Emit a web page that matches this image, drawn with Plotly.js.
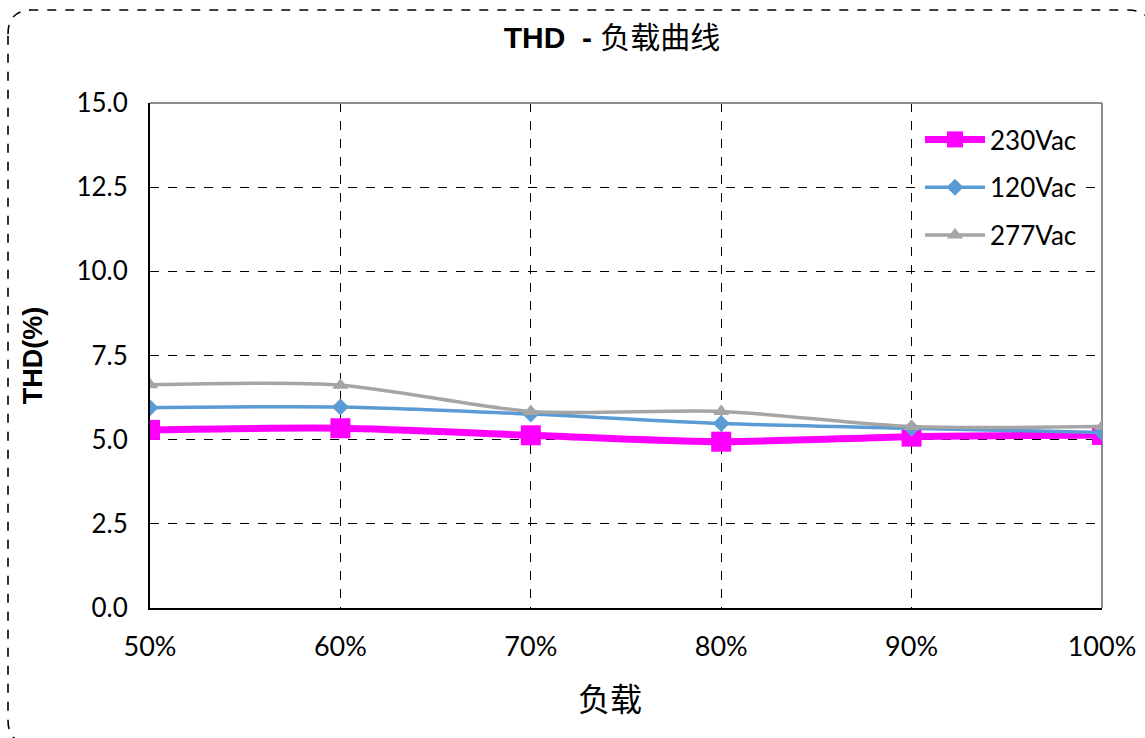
<!DOCTYPE html>
<html>
<head>
<meta charset="utf-8">
<script src="https://cdn.plot.ly/plotly-3.0.1.min.js"></script>
<style>html,body{margin:0;padding:0;background:#fff;}#chart{width:1145px;height:738px;}</style>
</head>
<body>
<div id="chart"></div>
<script>
// ---- data ----
const loadLabels = ['50%', '60%', '70%', '80%', '90%', '100%'];
const thd230 = [5.29, 5.34, 5.13, 4.94, 5.09, 5.14];
const thd120 = [5.95, 5.97, 5.76, 5.48, 5.34, 5.21];
const thd277 = [6.63, 6.62, 5.84, 5.84, 5.39, 5.39];
const yTicks = [0, 2.5, 5, 7.5, 10, 12.5, 15];
const yTickText = ['0.0', '2.5', '5.0', '7.5', '10.0', '12.5', '15.0'];

// ---- geometry helpers (layout only) ----
const W = 1145, H = 738, L = 150, R = 43, T = 103, B = 130;
const pw = W - L - R, ph = H - T - B;
const px = v => (v - L) / pw;
const py = v => (H - B - v) / ph;
function roundRect(x0, y0, x1, y1, r) {
  const p = (x, y) => px(x) + ',' + py(y);
  return 'M' + p(x0, y0 + r) + ' Q' + p(x0, y0) + ' ' + p(x0 + r, y0) +
    ' L' + p(x1 - r, y0) + ' Q' + p(x1, y0) + ' ' + p(x1, y0 + r) +
    ' L' + p(x1, y1 - r) + ' Q' + p(x1, y1) + ' ' + p(x1 - r, y1) +
    ' L' + p(x0 + r, y1) + ' Q' + p(x0, y1) + ' ' + p(x0, y1 - r) + ' Z';
}

const fontFam = 'Lato, "Open Sans", "Noto Sans CJK SC", sans-serif';

const traces = [
  {
    x: loadLabels, y: thd230, name: '230Vac', type: 'scatter', mode: 'lines+markers',
    line: {color: '#FF00FF', width: 7, shape: 'spline', smoothing: 0.8},
    marker: {symbol: 'square', size: 20, color: '#FF00FF'},
    legendgroup: 'a'
  },
  {
    x: loadLabels, y: thd120, name: '120Vac', type: 'scatter', mode: 'lines+markers',
    line: {color: '#5B9BD5', width: 3.5, shape: 'spline', smoothing: 0.8},
    marker: {symbol: 'diamond', size: 13, color: '#5B9BD5'},
    legendgroup: 'b'
  },
  {
    x: loadLabels, y: thd277, name: '277Vac', type: 'scatter', mode: 'lines+markers',
    line: {color: '#A5A5A5', width: 3.5, shape: 'spline', smoothing: 0.8},
    marker: {symbol: 'triangle-up', size: 14, color: '#A5A5A5'},
    legendgroup: 'c'
  }
];

const layout = {
  width: W, height: H,
  margin: {l: L, r: R, t: T, b: B, pad: 0},
  paper_bgcolor: '#fff', plot_bgcolor: '#fff',
  font: {family: fontFam, size: 24, color: '#000'},
  title: {
    text: '<b>THD  -</b> 负载曲线',
    font: {family: '"Liberation Sans", "Noto Sans CJK SC", sans-serif', size: 30, color: '#000'},
    x: 612 / W, xref: 'container', xanchor: 'center',
    y: 1 - 37 / H, yref: 'container', yanchor: 'middle'
  },
  xaxis: {
    type: 'category', range: [0, 5],
    showline: true, linecolor: '#000', linewidth: 2,
    showgrid: true, gridcolor: '#000', griddash: 'dash', gridwidth: 1,
    ticks: '', ticklabelstandoff: 14,
    tickfont: {family: 'Lato', size: 27, color: '#000'},
    zeroline: false, fixedrange: true
  },
  yaxis: {
    range: [0, 15], tickvals: yTicks, ticktext: yTickText,
    showline: true, linecolor: '#000', linewidth: 2,
    showgrid: true, gridcolor: '#000', griddash: 'dash', gridwidth: 1,
    ticks: '', ticklabelstandoff: 15,
    tickfont: {family: 'Lato', size: 26, color: '#000'},
    title: {text: '<b>THD(%)</b>', font: {family: '"Liberation Sans", sans-serif', size: 27, color: '#000'}, standoff: 26},
    zeroline: false, fixedrange: true
  },
  legend: {
    x: px(920), y: py(116), xanchor: 'left', yanchor: 'top',
    bgcolor: 'rgba(255,255,255,1)', borderwidth: 0,
    font: {family: fontFam, size: 26, color: '#000'},
    traceorder: 'grouped', tracegroupgap: 11, itemwidth: 60
  },
  annotations: [
    {text: '负载', xref: 'paper', yref: 'paper', x: px(610), y: py(697), xanchor: 'center', yanchor: 'middle',
     showarrow: false, font: {family: '"Noto Sans CJK SC", sans-serif', size: 32, color: '#000'}}
  ],
  shapes: [
    {type: 'line', xref: 'paper', yref: 'paper', x0: 0, x1: 1, y0: 1, y1: 1, line: {color: '#8c8c8c', width: 2}, layer: 'above'},
    {type: 'line', xref: 'paper', yref: 'paper', x0: 1, x1: 1, y0: 0, y1: 1, line: {color: '#8c8c8c', width: 2}, layer: 'below'},
    {type: 'path', xref: 'paper', yref: 'paper', path: roundRect(8, 10, 1152, 744, 24),
     line: {color: '#000', width: 1.6, dash: 'dash'}, fillcolor: 'rgba(0,0,0,0)', layer: 'above'}
  ],
  showlegend: true
};

Plotly.newPlot('chart', traces, layout, {displayModeBar: false, staticPlot: true});
</script>
</body>
</html>
